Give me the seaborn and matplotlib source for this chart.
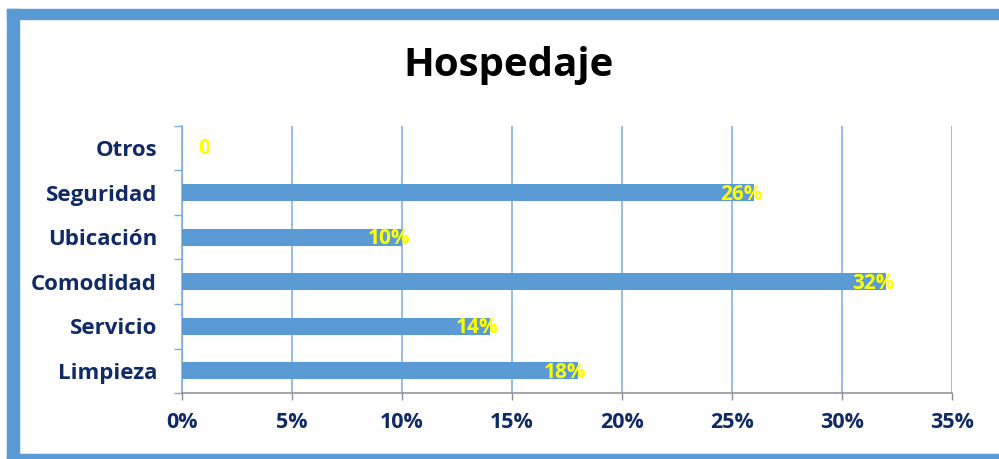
import numpy as np
import matplotlib
matplotlib.use("Agg")
import matplotlib.pyplot as plt
from matplotlib.patches import Rectangle
from matplotlib.ticker import MultipleLocator, PercentFormatter
import seaborn as sns

# Data (percent)
categories = ["Otros", "Seguridad", "Ubicación", "Comodidad", "Servicio", "Limpieza"]
values = [0, 26, 10, 32, 14, 18]
value_labels = ["0", "26%", "10%", "32%", "14%", "18%"]

navy = "#0F2A66"
bar_blue = "#5B9BD5"
grid_blue = "#7AAADB"

sns.set_theme(style="white")
plt.rcParams['font.family'] = ['Open Sans', 'DejaVu Sans']

W, H = 999, 459
fig = plt.figure(figsize=(W / 100, H / 100), dpi=100)
ax = fig.add_axes([182 / W, 1 - 393 / H, (952 - 182) / W, (393 - 126) / H])

sns.barplot(x=values, y=categories, orient="h", color=bar_blue, width=0.39,
            saturation=1, linewidth=0, ax=ax, zorder=3)

ax.set_xlim(0, 35)
ax.xaxis.set_major_locator(MultipleLocator(5))
ax.xaxis.set_major_formatter(PercentFormatter(decimals=0))
ax.grid(axis="x", color=grid_blue, linewidth=1.1, zorder=0)
ax.set_axisbelow(True)

# category boundary ticks on the y axis
ax.set_yticks(np.arange(-0.5, len(categories), 1), minor=True)
ax.tick_params(axis="y", which="major", length=0, pad=18, labelsize=16,
               labelcolor=navy)
ax.tick_params(axis="y", which="minor", left=True, length=6, width=1,
               color=grid_blue)
ax.tick_params(axis="x", which="major", bottom=True, length=5, width=1,
               color="#8C8C8C", pad=9, labelsize=15.5, labelcolor=navy)
for lab in ax.get_yticklabels() + ax.get_xticklabels():
    lab.set_fontweight("bold")

for side in ["top", "right"]:
    ax.spines[side].set_visible(False)
ax.spines["left"].set_color(grid_blue)
ax.spines["left"].set_linewidth(1.1)
ax.spines["bottom"].set_color("#8C8C8C")
ax.spines["bottom"].set_linewidth(1.1)
ax.set_xlabel("")
ax.set_ylabel("")

# data labels in yellow at the bar ends
for i, (v, txt) in enumerate(zip(values, value_labels)):
    if v == 0:
        ax.annotate(txt, xy=(v, i), xytext=(12, 0), textcoords="offset points",
                    ha="left", va="center", color="#FFFF00", fontsize=15,
                    fontweight="bold", zorder=5)
    else:
        ax.annotate(txt, xy=(v, i), xytext=(6, -1), textcoords="offset points",
                    ha="right", va="center", color="#FFFF00", fontsize=15,
                    fontweight="bold", zorder=5)

fig.text(509 / W, 1 - 66 / H, "Hospedaje", ha="center", va="center",
         fontsize=29, fontweight="bold", color="black")

# thick blue frame (left, top, bottom; right side cut off)
frame = dict(transform=fig.transFigure, color=bar_blue, zorder=10)
fig.patches.append(Rectangle((7 / W, 0), 12 / W, 1 - 9 / H, **frame))
fig.patches.append(Rectangle((7 / W, 1 - 19 / H), 1, 10 / H, **frame))
fig.patches.append(Rectangle((7 / W, 0), 1, 5 / H, **frame))

fig.savefig("out.png", dpi=100)
